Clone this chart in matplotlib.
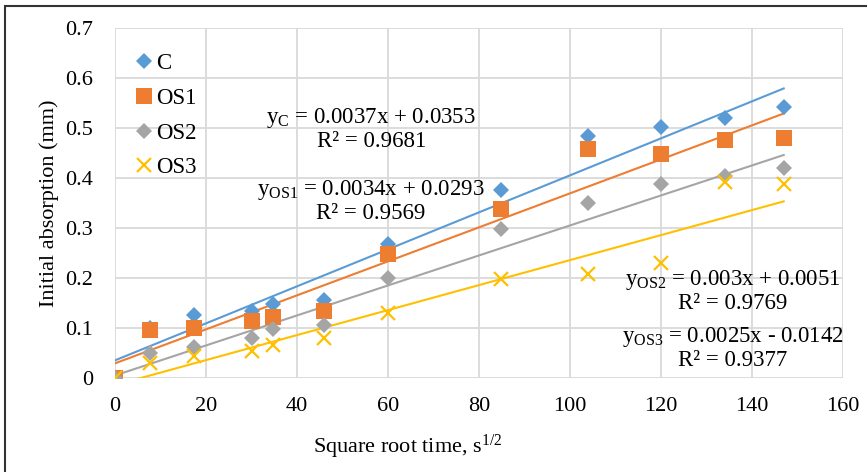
import matplotlib
matplotlib.use("Agg")
import matplotlib.pyplot as plt
from matplotlib.patches import Rectangle
import numpy as np

plt.rcParams['font.family'] = ['Liberation Serif', 'DejaVu Serif']
plt.rcParams['mathtext.fontset'] = 'custom'
plt.rcParams['mathtext.rm'] = 'Liberation Serif'
plt.rcParams['mathtext.it'] = 'Liberation Serif'

# square root of elapsed time, s^1/2
sqrt_time = [0, 7.75, 17.32, 30.0, 34.64, 45.83, 60.0, 84.85, 103.92, 120.0, 134.16, 146.97]

absorption_c = [0, 0.100, 0.127, 0.135, 0.148, 0.156, 0.269, 0.377, 0.485, 0.503, 0.520, 0.543]
absorption_os1 = [0, 0.097, 0.101, 0.114, 0.123, 0.134, 0.249, 0.339, 0.459, 0.449, 0.477, 0.481]
absorption_os2 = [0, 0.050, 0.062, 0.081, 0.098, 0.107, 0.200, 0.299, 0.351, 0.389, 0.404, 0.421]
absorption_os3 = [0, 0.030, 0.044, 0.054, 0.066, 0.080, 0.131, 0.198, 0.209, 0.231, 0.393, 0.389]

series_names = ['C', 'OS1', 'OS2', 'OS3']
slopes = [0.0037, 0.0034, 0.003, 0.0025]
intercepts = [0.0353, 0.0293, 0.0051, -0.0142]
r_squared = [0.9681, 0.9569, 0.9769, 0.9377]
x_ticks = [0, 20, 40, 60, 80, 100, 120, 140, 160]
y_ticks = [0, 0.1, 0.2, 0.3, 0.4, 0.5, 0.6, 0.7]

colors = ['#5B9BD5', '#ED7D31', '#A5A5A5', '#FFC000']
markers = ['D', 's', 'D', 'x']
msizes = [8.5, 11, 8.5, 9.5]

FS = 16.5

fig = plt.figure(figsize=(8.67, 4.72), dpi=100)
ax = fig.add_axes([115 / 867, 1 - 378 / 472, 728 / 867, 350 / 472])

all_series = [absorption_c, absorption_os1, absorption_os2, absorption_os3]
xs = np.array(sqrt_time)
for name, ys, c, m, ms, k, b in zip(series_names, all_series, colors, markers, msizes, slopes, intercepts):
    kw = dict(markeredgewidth=1.6) if m == 'x' else dict(markeredgewidth=0)
    ax.plot(xs, ys, linestyle='none', marker=m, color=c, markersize=ms, label=name, zorder=3, **kw)
    fit_x = np.array([xs[0], xs[-1]])
    ax.plot(fit_x, k * fit_x + b, color=c, linewidth=1.5, zorder=2)

ax.set_xlim(0, 160)
ax.set_ylim(0, 0.7)
ax.set_xticks(x_ticks)
ax.set_yticks(y_ticks)
ax.set_xticklabels([str(t) for t in x_ticks])
ax.set_yticklabels(['0'] + [f'{t:.1f}' for t in y_ticks[1:]])
ax.grid(True, color='#D9D9D9', linewidth=1.3)
ax.set_axisbelow(True)
for s in ax.spines.values():
    s.set_visible(False)
ax.tick_params(length=0, labelsize=16)
ax.tick_params(axis='x', pad=14)
ax.tick_params(axis='y', pad=16)

ax.set_xlabel('Square root time, s$^{1/2}$', fontsize=16, va='center')
ax.xaxis.set_label_coords(0.4025, -0.197)
ax.set_ylabel('Initial absorption (mm)', fontsize=16, va='center')
ax.yaxis.set_label_coords(-0.0907, 0.5)

leg = ax.legend(loc='upper left', bbox_to_anchor=(0.012, 0.955), frameon=False, fontsize=FS,
                handletextpad=0.0, handlelength=1.0, labelspacing=0.6, borderaxespad=0)

def fmt_eq(sub, k, b):
    sign = '+' if b >= 0 else '-'
    return f'y$_{{\\mathrm{{{sub}}}}}$ = {k:g}x {sign} {abs(b):g}'

eq_pos = [(56.3, 0.52), (56.3, 0.376), (135.8, 0.196), (135.8, 0.082)]
for name, k, b, r2, (px, py) in zip(series_names, slopes, intercepts, r_squared, eq_pos):
    ax.text(px, py, fmt_eq(name, k, b), fontsize=FS, ha='center', va='center', zorder=4)
    ax.text(px, py - 0.047, f'R² = {r2:.4f}', fontsize=FS, ha='center', va='center', zorder=4)

fig.patches.append(Rectangle((5 / 867, -0.1), 1.2, 1 - 6 / 472 + 0.1, transform=fig.transFigure,
                             fill=False, edgecolor='#333333', linewidth=1.5))

fig.savefig('out.png', dpi=100)
